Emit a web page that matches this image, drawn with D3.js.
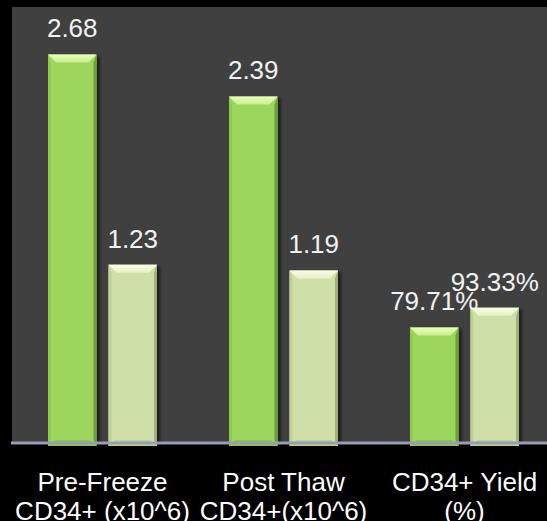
<!DOCTYPE html>
<html>
<head>
<meta charset="utf-8">
<script src="https://cdn.jsdelivr.net/npm/d3@7"></script>
<style>
  html, body { margin: 0; padding: 0; background: #000; }
  svg { display: block; }
  text { font-family: "Liberation Sans", Arial, sans-serif; }
</style>
</head>
<body>
<svg id="chart" width="547" height="521"></svg>
<script>
// Categories (each one drawn on two lines under the axis)
const categories = ["prefreeze", "postthaw", "yield"];
const categoryLines = [
  ["Pre-Freeze", "CD34+ (x10^6)"],
  ["Post Thaw", "CD34+(x10^6)"],
  ["CD34+ Yield", "(%)"]
];
// Kind of value in each category: cell counts (x10^6) or a percentage
const categoryUnits = ["count", "count", "percent"];

// Two series, one value per category
const seriesKeys = ["first", "second"];
const firstValues = [2.68, 2.39, 79.71];
const secondValues = [1.23, 1.19, 93.33];

// Shared value axis (percentages are plotted as fractions)
const yDomain = [0, 3];

const W = 547, H = 521;
const panel = { left: 12, top: 7, right: 547, bottom: 443 };

const svg = d3.select("#chart");

// Dark plot panel
svg.append("rect")
  .attr("x", panel.left).attr("y", panel.top)
  .attr("width", panel.right - panel.left)
  .attr("height", panel.bottom - panel.top)
  .attr("fill", "#404040");

const x0 = d3.scaleBand().domain(categories).range([12, 555]).padding(0);
const x1 = d3.scaleBand().domain(seriesKeys).range([36, 145])
  .paddingInner(0.198).paddingOuter(0);
const y = d3.scaleLinear().domain(yDomain).range([panel.bottom, 8]);

const palette = {
  first:  { body: "#9dd65b", top: "#c9ee8f", topEdge: "#eaffba", left: "#8fcb4e", right: "#6e9e3c", bottom: "#8cc64f" },
  second: { body: "#cfdfa8", top: "#e6f0c6", topEdge: "#fafde9", left: "#c0d096", right: "#a2af7a", bottom: "#bfcf98" }
};

const defs = svg.append("defs");
const shadow = defs.append("filter").attr("id", "barShadow")
  .attr("x", "-20%").attr("y", "-10%").attr("width", "150%").attr("height", "130%");
shadow.append("feDropShadow")
  .attr("dx", 3).attr("dy", 2).attr("stdDeviation", 1.5)
  .attr("flood-color", "#000").attr("flood-opacity", 0.55);

Object.entries(palette).forEach(([k, c]) => {
  const g = defs.append("linearGradient").attr("id", "top-" + k)
    .attr("x1", 0).attr("y1", 0).attr("x2", 0).attr("y2", 1);
  g.append("stop").attr("offset", "0%").attr("stop-color", c.topEdge);
  g.append("stop").attr("offset", "100%").attr("stop-color", c.top);
});

const rows = categories.map((cat, i) => ({
  cat,
  unit: categoryUnits[i],
  values: [
    { key: "first", raw: firstValues[i] },
    { key: "second", raw: secondValues[i] }
  ]
}));

function plotValue(d, unit) {
  return unit === "percent" ? d.raw / 100 : d.raw;
}
function labelText(d, unit) {
  return unit === "percent" ? d3.format(".2f")(d.raw) + "%" : d3.format(".2f")(d.raw);
}

const groups = svg.append("g").selectAll("g.group")
  .data(rows).join("g")
  .attr("class", "group")
  .attr("transform", d => `translate(${x0(d.cat)},0)`);

const bars = groups.selectAll("g.bar")
  .data(d => d.values.map(v => ({ ...v, unit: d.unit })))
  .join("g")
  .attr("class", "bar")
  .each(function (d) {
    const g = d3.select(this);
    const c = palette[d.key];
    const bx = x1(d.key), bw = x1.bandwidth();
    const by = y(plotValue(d, d.unit)), bh = y(0) - by + 3;
    const sx = 8, sy = 8, side = 3, bot = 6;
    const body = g.append("g").attr("filter", "url(#barShadow)");
    body.append("rect")
      .attr("x", bx).attr("y", by).attr("width", bw).attr("height", bh)
      .attr("fill", c.body);
    // side bevels
    body.append("polygon").attr("fill", c.left)
      .attr("points", [[bx, by], [bx + side, by + sy], [bx + side, by + bh - bot], [bx, by + bh]].join(" "));
    body.append("polygon").attr("fill", c.right)
      .attr("points", [[bx + bw, by], [bx + bw - side, by + sy], [bx + bw - side, by + bh - bot], [bx + bw, by + bh]].join(" "));
    // bottom bevel
    body.append("polygon").attr("fill", c.bottom)
      .attr("points", [[bx, by + bh], [bx + side + 4, by + bh - bot], [bx + bw - side - 4, by + bh - bot], [bx + bw, by + bh]].join(" "));
    // top bevel highlight
    body.append("polygon").attr("fill", `url(#top-${d.key})`)
      .attr("points", [[bx, by], [bx + bw, by], [bx + bw - sx, by + sy], [bx + sx, by + sy]].join(" "));
  });

// Value labels above each bar
groups.selectAll("text.value")
  .data(d => d.values.map(v => ({ ...v, unit: d.unit })))
  .join("text")
  .attr("class", "value")
  .attr("x", d => x1(d.key) + x1.bandwidth() / 2)
  .attr("y", d => y(plotValue(d, d.unit)) - 17)
  .attr("text-anchor", "middle")
  .attr("font-size", 26)
  .attr("fill", "#f2f2f2")
  .text(d => labelText(d, d.unit));

// Category axis along the bottom
const axis = svg.append("g")
  .attr("transform", `translate(0,${panel.bottom})`)
  .call(d3.axisBottom(x0).tickSize(0).tickFormat(""));
axis.select(".domain").attr("stroke", "#969db6").attr("stroke-width", 3)
  .attr("d", `M11,0H555`);

axis.selectAll(".tick").each(function (cat) {
  const i = categories.indexOf(cat);
  const t = d3.select(this).select("text")
    .attr("y", 0).attr("dy", null)
    .attr("font-size", 26)
    .attr("fill", "#ffffff")
    .attr("text-anchor", "middle");
  t.selectAll("tspan").data(categoryLines[i]).join("tspan")
    .attr("x", 0)
    .attr("y", (d, j) => 48 + j * 29)
    .text(d => d);
});
</script>
</body>
</html>
